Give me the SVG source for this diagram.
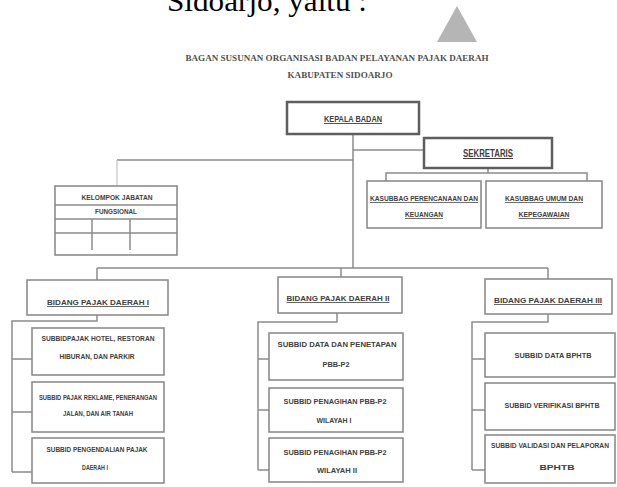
<svg xmlns="http://www.w3.org/2000/svg" width="617" height="487" viewBox="0 0 617 487">
<style>
.bx{fill:#fff;stroke:#858585;stroke-width:1.5}
.bxk{fill:#fff;stroke:#5e5e5e;stroke-width:2.5}
.c{fill:none;stroke:#8c8c8c;stroke-width:1.5}
.cl{fill:none;stroke:#c4c4c4;stroke-width:1.2}
.t{font-family:"Liberation Sans",Arial,sans-serif;font-weight:bold;font-size:7.5px;fill:#404040;text-anchor:middle}
.u{text-decoration:underline}
.ti{font-family:"Liberation Serif","Times New Roman",serif;font-weight:bold;font-size:8px;fill:#505050;text-anchor:middle}
</style>
<rect width="617" height="487" fill="#fff"/>
<text x="167" y="11" font-family="Liberation Serif,'Times New Roman',serif" font-size="30" fill="#000" textLength="200" lengthAdjust="spacingAndGlyphs">Sidoarjo, yaitu :</text>
<polygon points="457,6 437,42 477,42" fill="#b5b5b5"/>
<g id="title">
<text class="ti" x="337" y="61" textLength="303" lengthAdjust="spacingAndGlyphs">BAGAN SUSUNAN ORGANISASI BADAN PELAYANAN PAJAK DAERAH</text>
<text class="ti" x="340" y="78" textLength="105" lengthAdjust="spacingAndGlyphs">KABUPATEN SIDOARJO</text>
</g>
<g id="connectors">
<path class="c" d="M353,134V268M117,160H353M353,150H424M488,168V173M386,181V173H587V181"/>
<path class="cl" d="M117,160V186"/>
<path class="c" d="M97,268H548M97,268V280M341,268V277M548,268V279"/>
<path class="c" d="M97,315V321H12V472M12,359H32M12,412H32M12,472H32"/>
<path class="c" d="M337,313V322H258V470M258,359H269M258,410H269M258,470H269"/>
<path class="c" d="M548,314V322H472V470M472,359H485M472,410H485M472,470H485"/>
</g>
<g id="kepala">
<rect class="bxk" x="287" y="102" width="132" height="32"/>
<text class="t u" x="353" y="122" textLength="58" lengthAdjust="spacingAndGlyphs" style="font-size:9px">KEPALA BADAN</text>
</g>
<g id="sekretaris">
<rect class="bxk" x="424" y="138" width="128" height="30"/>
<text class="t u" x="488" y="157" textLength="50" lengthAdjust="spacingAndGlyphs" style="font-size:10px">SEKRETARIS</text>
</g>
<g id="kasubbag-perencanaan">
<rect class="bx" x="367" y="181" width="114" height="47"/>
<text class="t u" x="424" y="201" textLength="108" lengthAdjust="spacingAndGlyphs">KASUBBAG PERENCANAAN DAN</text>
<text class="t u" x="424" y="217" textLength="38" lengthAdjust="spacingAndGlyphs">KEUANGAN</text>
</g>
<g id="kasubbag-umum">
<rect class="bx" x="486" y="181" width="116" height="47"/>
<text class="t u" x="544" y="201" textLength="78" lengthAdjust="spacingAndGlyphs">KASUBBAG UMUM DAN</text>
<text class="t u" x="544" y="217" textLength="51" lengthAdjust="spacingAndGlyphs">KEPEGAWAIAN</text>
</g>
<g id="kelompok-jabatan">
<rect class="bx" x="55" y="186" width="122" height="69"/>
<path class="c" d="M55,205H177M55,219H177M55,233H177M92,219V250M130,219V250" stroke-width="1"/>
<text class="t" x="117" y="200" textLength="71" lengthAdjust="spacingAndGlyphs">KELOMPOK JABATAN</text>
<text class="t" x="116" y="214" textLength="42" lengthAdjust="spacingAndGlyphs">FUNGSIONAL</text>
</g>
<g id="bidang-1">
<rect class="bx" x="27" y="280" width="141" height="35"/>
<text class="t u" x="98" y="305" textLength="102" lengthAdjust="spacingAndGlyphs" style="font-size:8px">BIDANG PAJAK DAERAH I</text>
</g>
<g id="bidang-2">
<rect class="bx" x="278" y="277" width="124" height="36"/>
<text class="t u" x="338" y="301" textLength="103" lengthAdjust="spacingAndGlyphs" style="font-size:8px">BIDANG PAJAK DAERAH II</text>
</g>
<g id="bidang-3">
<rect class="bx" x="485" y="279" width="127" height="35"/>
<text class="t u" x="548" y="303" textLength="108" lengthAdjust="spacingAndGlyphs" style="font-size:8px">BIDANG PAJAK DAERAH III</text>
</g>
<g id="subbid-hotel">
<rect class="bx" x="32" y="328" width="132" height="47"/>
<text class="t" x="98" y="341" textLength="113" lengthAdjust="spacingAndGlyphs">SUBBIDPAJAK HOTEL, RESTORAN</text>
<text class="t" x="97" y="359" textLength="75" lengthAdjust="spacingAndGlyphs">HIBURAN, DAN PARKIR</text>
</g>
<g id="subbid-reklame">
<rect class="bx" x="32" y="382" width="132" height="50"/>
<text class="t" x="98" y="400" textLength="118" lengthAdjust="spacingAndGlyphs">SUBBID PAJAK REKLAME, PENERANGAN</text>
<text class="t" x="98" y="416" textLength="70" lengthAdjust="spacingAndGlyphs">JALAN, DAN AIR TANAH</text>
</g>
<g id="subbid-pengendalian">
<rect class="bx" x="32" y="438" width="132" height="45"/>
<text class="t" x="97" y="452" textLength="101" lengthAdjust="spacingAndGlyphs">SUBBID PENGENDALIAN PAJAK</text>
<text class="t" x="95" y="470" textLength="26" lengthAdjust="spacingAndGlyphs">DAERAH I</text>
</g>
<g id="subbid-data-pbb">
<rect class="bx" x="269" y="333" width="134" height="47"/>
<text class="t" x="337" y="347" textLength="119" lengthAdjust="spacingAndGlyphs">SUBBID DATA DAN PENETAPAN</text>
<text class="t" x="336" y="367" textLength="27" lengthAdjust="spacingAndGlyphs">PBB-P2</text>
</g>
<g id="subbid-penagihan-1">
<rect class="bx" x="269" y="388" width="134" height="44"/>
<text class="t" x="335" y="404" textLength="103" lengthAdjust="spacingAndGlyphs">SUBBID PENAGIHAN PBB-P2</text>
<text class="t" x="334" y="423" textLength="35" lengthAdjust="spacingAndGlyphs">WILAYAH I</text>
</g>
<g id="subbid-penagihan-2">
<rect class="bx" x="269" y="438" width="134" height="44"/>
<text class="t" x="335" y="455" textLength="103" lengthAdjust="spacingAndGlyphs">SUBBID PENAGIHAN PBB-P2</text>
<text class="t" x="337" y="473" textLength="40" lengthAdjust="spacingAndGlyphs">WILAYAH II</text>
</g>
<g id="subbid-data-bphtb">
<rect class="bx" x="485" y="333" width="130" height="44"/>
<text class="t" x="553" y="358" textLength="77" lengthAdjust="spacingAndGlyphs">SUBBID DATA BPHTB</text>
</g>
<g id="subbid-verifikasi">
<rect class="bx" x="485" y="383" width="130" height="47"/>
<text class="t" x="552" y="408" textLength="95" lengthAdjust="spacingAndGlyphs">SUBBID VERIFIKASI BPHTB</text>
</g>
<g id="subbid-validasi">
<rect class="bx" x="485" y="435" width="130" height="48"/>
<text class="t" x="550" y="448" textLength="118" lengthAdjust="spacingAndGlyphs" style="font-size:6.3px">SUBBID VALIDASI DAN PELAPORAN</text>
<text class="t" x="557" y="470" textLength="35" lengthAdjust="spacingAndGlyphs">BPHTB</text>
</g>
</svg>
